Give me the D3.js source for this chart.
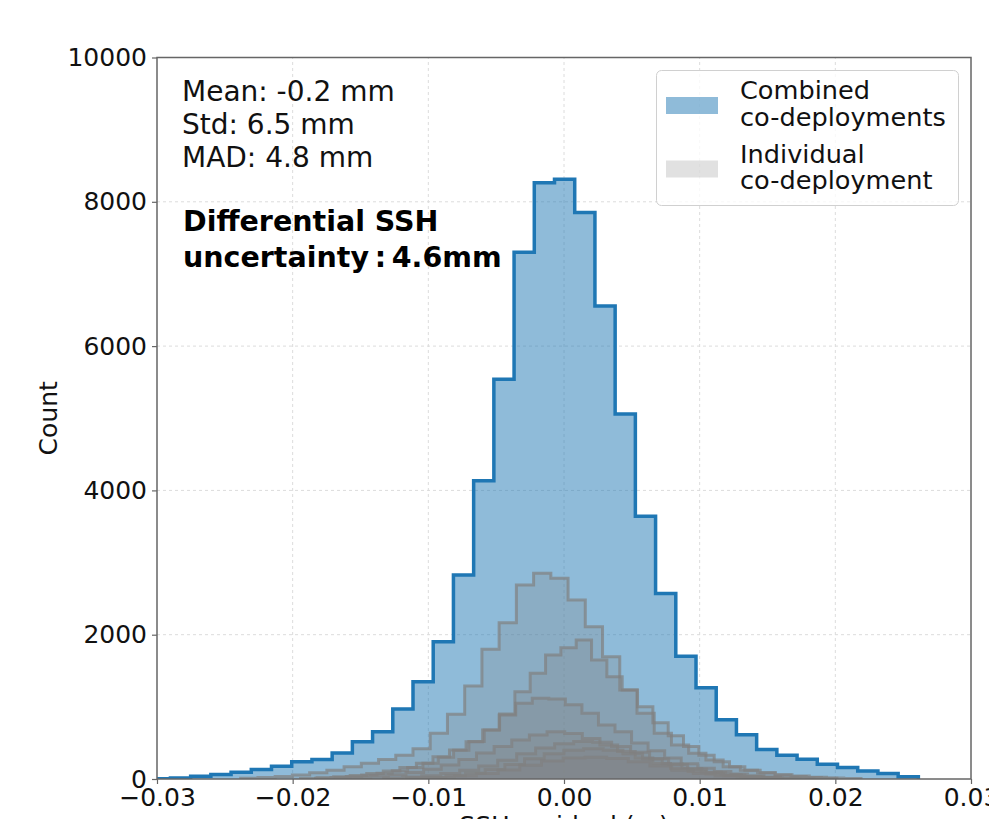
<!DOCTYPE html>
<html>
<head>
<meta charset="utf-8">
<script src="https://cdn.jsdelivr.net/npm/d3@7"></script>
<style>
  body { margin: 0; background: #fff; }
  text { font-family: "DejaVu Sans", sans-serif; }
</style>
</head>
<body>
<div id="chart"></div>
<script>
// combined histogram (all co-deployments)
var combinedStart = -0.0305, combinedWidth = 0.00149;
var combinedCounts = [5, 15, 38, 62, 92, 132, 178, 238, 270, 362, 515, 655, 970, 1348, 1903, 2827,
  4134, 5540, 7300, 8265, 8312, 7850, 6555, 5058, 3642, 2570, 1700, 1266, 822, 615, 408, 330,
  275, 205, 160, 112, 76, 30];

// individual co-deployments: each has its own bins
var indivStarts = [-0.02383, -0.01831, -0.01942, -0.01685, -0.01329, -0.01161, -0.01126];
var indivWidths = [0.00127, 0.00113, 0.00122, 0.0013, 0.0014, 0.00145, 0.0016];
var indivA = [10, 20, 35, 55, 85, 120, 170, 220, 270, 330, 420, 633, 897, 1289, 1797, 2166, 2689,
  2851, 2782, 2481, 2111, 1695, 1234, 911, 633, 471, 356, 263, 171, 120, 85, 60, 40, 25, 15, 8];
var indivB = [10, 20, 35, 55, 80, 115, 160, 220, 300, 400, 520, 680, 900, 1210, 1465, 1718, 1820,
  1926, 1649, 1418, 1233, 1000, 780, 600, 450, 330, 240, 170, 120, 85, 55, 35, 20, 10];
var indivC = [8, 18, 30, 50, 75, 110, 160, 220, 309, 402, 517, 679, 887, 1049, 1118, 1110, 1030,
  911, 748, 656, 500, 390, 290, 210, 150, 105, 70, 45, 28, 15, 8];
var indivD = [12, 22, 38, 60, 90, 135, 195, 270, 360, 450, 540, 610, 656, 630, 560, 470, 380, 290,
  215, 150, 105, 70, 45, 28, 15];
var indivE = [12, 25, 45, 75, 120, 180, 260, 350, 430, 490, 520, 510, 450, 370, 280, 200, 135, 90,
  55, 30, 15];
var indivF = [10, 22, 45, 80, 130, 200, 280, 350, 400, 420, 400, 350, 280, 210, 145, 95, 60, 35, 18, 8];
var indivG = [10, 20, 40, 75, 125, 190, 250, 290, 300, 285, 240, 180, 120, 75, 40, 20, 10];
var indivCounts = [indivA, indivB, indivC, indivD, indivE, indivF, indivG];

var xTicks = [-0.03, -0.02, -0.01, 0.00, 0.01, 0.02, 0.03];
var yTicks = [0, 2000, 4000, 6000, 8000, 10000];
var statsLines = ["Mean: -0.2 mm", "Std: 6.5 mm", "MAD: 4.8 mm"];
var boldLines = ["Differential SSH", "uncertainty\u2009:\u20094.6mm"];
var legendItems = [
  { lines: ["Combined", "co-deployments"], color: "#1f77b4", opacity: 0.5 },
  { lines: ["Individual", "co-deployment"], color: "#808080", opacity: 0.24 }
];

var W = 989, H = 819;
var margin = { top: 57.5, left: 157, right: 18, bottom: 40 };

var svg = d3.select("#chart").append("svg")
  .attr("width", W).attr("height", H);

var x = d3.scaleLinear().domain([-0.03, 0.03]).range([margin.left, W - margin.right]);
var y = d3.scaleLinear().domain([0, 10000]).range([H - margin.bottom, margin.top]);

svg.append("clipPath").attr("id", "clip")
  .append("rect")
  .attr("x", x(-0.03)).attr("y", y(10000))
  .attr("width", x(0.03) - x(-0.03)).attr("height", y(0) - y(10000));

// grid
var grid = svg.append("g");
grid.selectAll(".gx").data(xTicks.slice(1, -1)).enter().append("line")
  .attr("x1", d => x(d)).attr("x2", d => x(d))
  .attr("y1", y(0)).attr("y2", y(10000))
  .attr("stroke", "#dcdcdc").attr("stroke-width", 1).attr("stroke-dasharray", "3,3");
grid.selectAll(".gy").data(yTicks.slice(1, -1)).enter().append("line")
  .attr("y1", d => y(d)).attr("y2", d => y(d))
  .attr("x1", x(-0.03)).attr("x2", x(0.03))
  .attr("stroke", "#dcdcdc").attr("stroke-width", 1).attr("stroke-dasharray", "3,3");

// turn counts into step points
function stepPoints(start, width, counts) {
  var pts = [[start, 0]];
  counts.forEach(function(c, i) { pts.push([start + i * width, c]); });
  pts.push([start + counts.length * width, counts[counts.length - 1]]);
  pts.push([start + counts.length * width, 0]);
  return pts;
}

var area = d3.area().curve(d3.curveStepAfter)
  .x(d => x(d[0])).y0(y(0)).y1(d => y(d[1]));
var line = d3.line().curve(d3.curveStepAfter)
  .x(d => x(d[0])).y(d => y(d[1]));

var plot = svg.append("g").attr("clip-path", "url(#clip)");

var combPts = stepPoints(combinedStart, combinedWidth, combinedCounts);
plot.append("path").attr("d", area(combPts))
  .attr("fill", "#1f77b4").attr("fill-opacity", 0.5);

indivCounts.forEach(function(counts, i) {
  var pts = stepPoints(indivStarts[i], indivWidths[i], counts);
  plot.append("path").attr("d", area(pts))
    .attr("fill", "#808080").attr("fill-opacity", 0.24);
  plot.append("path").attr("d", line(pts))
    .attr("fill", "none").attr("stroke", "#808080").attr("stroke-opacity", 0.7)
    .attr("stroke-width", 3).attr("stroke-linejoin", "miter");
});

plot.append("path").attr("d", line(combPts))
  .attr("fill", "none").attr("stroke", "#1f77b4").attr("stroke-width", 3.5)
  .attr("stroke-linejoin", "miter");

// frame
svg.append("rect")
  .attr("x", x(-0.03)).attr("y", y(10000))
  .attr("width", x(0.03) - x(-0.03)).attr("height", y(0) - y(10000))
  .attr("fill", "none").attr("stroke", "#666").attr("stroke-width", 1.5);

// axes
var xAxis = svg.append("g").attr("transform", "translate(0," + y(0) + ")")
  .call(d3.axisBottom(x).tickValues(xTicks).tickFormat(d3.format(".2f")).tickSize(5).tickPadding(4));
var yAxis = svg.append("g").attr("transform", "translate(" + x(-0.03) + ",0)")
  .call(d3.axisLeft(y).tickValues(yTicks).tickFormat(d3.format("d")).tickSize(5).tickPadding(5));
[xAxis, yAxis].forEach(function(a) {
  a.select(".domain").remove();
  a.selectAll(".tick line").attr("stroke", "#666").attr("stroke-width", 1.2);
  a.selectAll(".tick text").attr("fill", "#111").style("font-size", "25px")
    .style("font-family", "'DejaVu Sans', sans-serif");
});

svg.append("text")
  .attr("transform", "translate(57," + ((y(0) + y(10000)) / 2) + ") rotate(-90)")
  .attr("text-anchor", "middle").attr("fill", "#111").style("font-size", "25px")
  .text("Count");
svg.append("text")
  .attr("x", x(0)).attr("y", 834)
  .attr("text-anchor", "middle").attr("fill", "#111").style("font-size", "25px")
  .text("SSH residual (m)");

// stats annotation
svg.selectAll(".stat").data(statsLines).enter().append("text")
  .attr("x", 182).attr("y", (d, i) => 101 + i * 32.8)
  .attr("fill", "#111").style("font-size", "28px")
  .text(d => d);
svg.selectAll(".bold").data(boldLines).enter().append("text")
  .attr("x", 183).attr("y", (d, i) => 231 + i * 36)
  .attr("fill", "#000").style("font-size", "28.5px").style("font-weight", "bold")
  .text(d => d);

// legend
var lg = svg.append("g");
lg.append("rect")
  .attr("x", 656.5).attr("y", 70.5).attr("width", 302).attr("height", 135)
  .attr("rx", 5).attr("fill", "#fff").attr("fill-opacity", 0.8)
  .attr("stroke", "#d0d0d0").attr("stroke-width", 1);
legendItems.forEach(function(item, i) {
  var top = 97 + i * 63.5;
  lg.append("rect")
    .attr("x", 666).attr("y", top).attr("width", 52).attr("height", 17)
    .attr("fill", item.color).attr("fill-opacity", item.opacity);
  item.lines.forEach(function(t, j) {
    lg.append("text")
      .attr("x", 740).attr("y", top + 2 + j * 26.5)
      .attr("fill", "#111").style("font-size", "25.6px")
      .text(t);
  });
});
</script>
</body>
</html>
